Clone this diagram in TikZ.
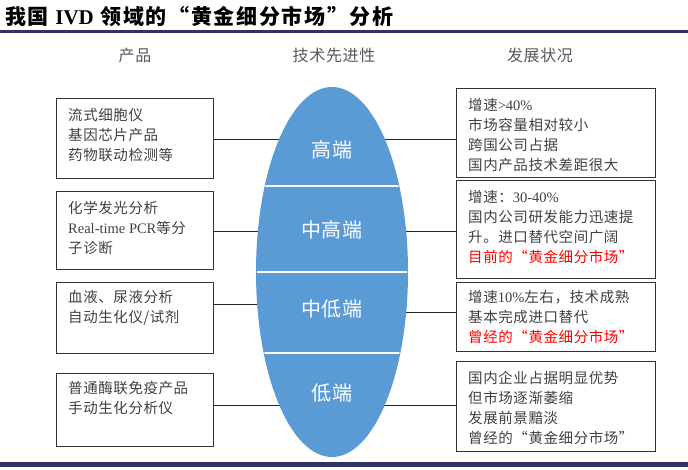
\documentclass[tikz,border=0pt]{standalone}
\usepackage{fontspec}
\setmainfont{Noto Sans CJK SC}[LetterSpace=4]
\newfontfamily\latinfont{Liberation Serif}
\newfontfamily\titlefont{Noto Sans CJK SC}[LetterSpace=8]
\newcommand{\latn}[1]{{\latinfont #1}}
\usetikzlibrary{positioning}
\definecolor{tierblue}{HTML}{5B9BD5}
\definecolor{rulenavy}{HTML}{2F3468}
\definecolor{boxtext}{HTML}{404040}
\definecolor{headgray}{HTML}{595959}
\definecolor{hotred}{HTML}{FF0000}
\tikzset{
  infobox/.style={draw=black!80, line width=1.1pt, anchor=north west, inner sep=0pt},
  infotext/.style={anchor=north west, align=left, inner sep=0pt, text=boxtext,
    font=\fontsize{14.5}{20}\selectfont},
  colhead/.style={text=headgray, font=\fontsize{16}{16}\selectfont},
  tierlabel/.style={text=white, font=\fontsize{20}{20}\selectfont},
  connector/.style={draw=black!85, line width=1pt},
  tiersep/.style={draw=white, line width=1.6pt}
}

\begin{document}
\begin{tikzpicture}[x=1pt,y=-1pt]
  \useasboundingbox
    (0,0)
    rectangle
    (688,470);
  \node [anchor=base west, inner sep=0pt, font=\fontsize{21}{21}\titlefont\bfseries] (title)
    at (5,25)
    {我国 {\latinfont\bfseries IVD} 领域的“黄金细分市场”分析};
  \fill [rulenavy]
    (0,30)
    rectangle
    (688,33);
  \fill [rulenavy]
    (0,462)
    rectangle
    (688,467);
  \node [colhead] (hprod) at (135,55) {产品};
  \node [colhead] (htech) at (334,55) {技术先进性};
  \node [colhead] (hdev) at (540,55) {发展状况};

  \coordinate (tierc) at (332,272);
  \coordinate (hi) at (332,140);
  \coordinate (mh) at (332,232);
  \coordinate (mlw) at (332,305);
  \coordinate (mle) at (332,313);
  \coordinate (lo) at (332,405);

  \node [infobox, minimum width=157pt, minimum height=80pt] (p1) at (56,98) {};
  \node [infobox, minimum width=157pt, minimum height=78pt] (p2) at (56,191) {};
  \node [infobox, minimum width=157pt, minimum height=71pt] (p3) at (56,282) {};
  \node [infobox, minimum width=157pt, minimum height=73pt] (p4) at (56,373) {};
  \node [infobox, minimum width=199pt, minimum height=89pt] (r1) at (456,88) {};
  \node [infobox, minimum width=199pt, minimum height=98pt] (r2) at (456,180) {};
  \node [infobox, minimum width=199pt, minimum height=69pt] (r3) at (456,282) {};
  \node [infobox, minimum width=199pt, minimum height=90pt] (r4) at (456,361) {};

  \node [infotext, below right=10pt and 12pt of p1.north west] (p1t)
    {流式细胞仪\\基因芯片产品\\药物联动检测等};
  \node [infotext, below right=10pt and 12pt of p2.north west] (p2t)
    {化学发光分析\\\latn{Real-time PCR}等分\\子诊断};
  \node [infotext, below right=8pt and 12pt of p3.north west] (p3t)
    {血液、尿液分析\\自动生化仪/试剂};
  \node [infotext, below right=8pt and 12pt of p4.north west] (p4t)
    {普通酶联免疫产品\\手动生化分析仪};
  \node [infotext, below right=10pt and 12pt of r1.north west] (r1t)
    {增速\latn{>40\%}\\市场容量相对较小\\跨国公司占据\\国内产品技术差距很大};
  \node [infotext, below right=10pt and 12pt of r2.north west] (r2t)
    {增速：\latn{30-40\%}\\国内公司研发能力迅速提\\升。进口替代空间广阔\\{\color{hotred}目前的“黄金细分市场”}};
  \node [infotext, below right=8pt and 12pt of r3.north west] (r3t)
    {增速\latn{10\%}左右，技术成熟\\基本完成进口替代\\{\color{hotred}曾经的“黄金细分市场”}};
  \node [infotext, below right=10pt and 12pt of r4.north west] (r4t)
    {国内企业占据明显优势\\但市场逐渐萎缩\\发展前景黯淡\\曾经的“黄金细分市场”};

  \draw [connector] (p1.east |- hi) -- (hi);
  \draw [connector] (p2.east |- mh) -- (mh);
  \draw [connector] (p3.east |- mlw) -- (mlw);
  \draw [connector] (p4.east |- lo) -- (lo);
  \draw [connector] (r1.west |- hi) -- (hi);
  \draw [connector] (r2.west |- mh) -- (mh);
  \draw [connector] (r3.west |- mle) -- (mle);
  \draw [connector] (r4.west |- lo) -- (lo);

  \fill [tierblue]
    (tierc)
    ellipse
    [x radius=76, y radius=185];
  \begin{scope}
    \clip
      (tierc)
      ellipse
      [x radius=75, y radius=185];
    \draw [tiersep]
      (240,186)
      --
      (420,186);
    \draw [tiersep]
      (240,272)
      --
      (420,272);
    \draw [tiersep]
      (240,353)
      --
      (420,353);
  \end{scope}
  \node [tierlabel] (t1) at (332,150) {高端};
  \node [tierlabel] (t2) at (332,230) {中高端};
  \node [tierlabel] (t3) at (332,309) {中低端};
  \node [tierlabel] (t4) at (332,393) {低端};
\end{tikzpicture}
\end{document}
